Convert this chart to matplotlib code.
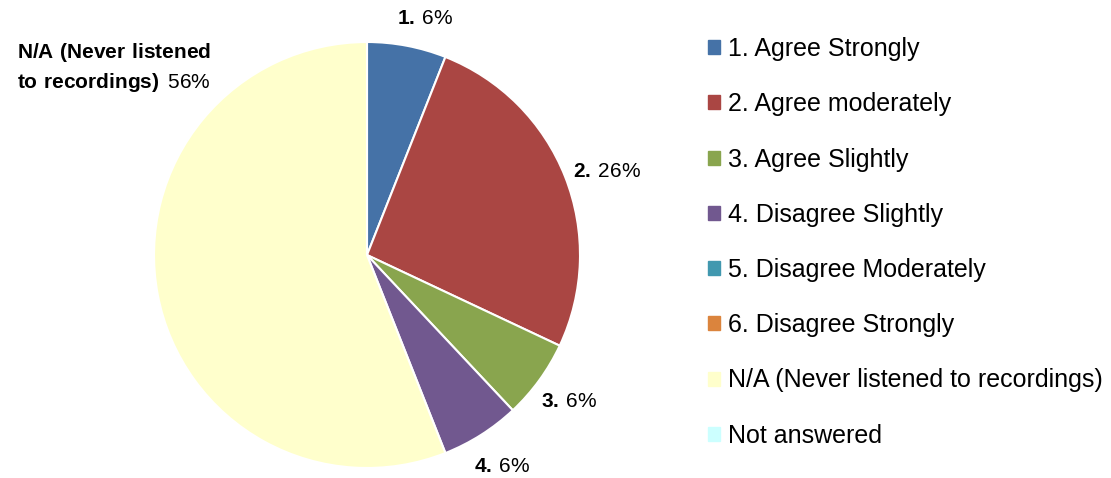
import numpy as np
import matplotlib
matplotlib.use("Agg")
import matplotlib.pyplot as plt
from matplotlib.patches import Patch

plt.rcParams['font.family'] = ['Liberation Sans', 'DejaVu Sans']
plt.rcParams['mathtext.fontset'] = 'custom'
plt.rcParams['mathtext.rm'] = 'Liberation Sans'
plt.rcParams['mathtext.bf'] = 'Liberation Sans:bold'

categories = ["1. Agree Strongly", "2. Agree moderately", "3. Agree Slightly",
              "4. Disagree Slightly", "5. Disagree Moderately", "6. Disagree Strongly",
              "N/A (Never listened to recordings)", "Not answered"]
short_labels = ["1.", "2.", "3.", "4.", "5.", "6.", "N/A (Never listened\nto recordings)", "Not answered"]
values = [6, 26, 6, 6, 0, 0, 56, 0]
colors = ["#4572A7", "#AA4643", "#89A54E", "#71588F", "#4198AF", "#DB843D", "#FFFFCC", "#CCFFFF"]

# label nudges (pixels) relative to the wedge mid-angle point
label_nudge = {0: (11, -8), 1: (8, -8), 2: (1, 0), 3: (1.5, -1.5)}

W, H = 1111, 478
fig = plt.figure(figsize=(W / 100, H / 100), dpi=100)
cx, cy, r = 367, 255, 213
ax = fig.add_axes([(cx - r) / W, (H - cy - r) / H, 2 * r / W, 2 * r / H])

idx = [i for i, v in enumerate(values) if v > 0]
vals = [values[i] for i in idx]
cols = [colors[i] for i in idx]
wedges, _ = ax.pie(vals, colors=cols, startangle=90, counterclock=False, radius=1,
                   wedgeprops=dict(edgecolor='white', linewidth=1.5))
ax.set_xlim(-1, 1)
ax.set_ylim(-1, 1)
ax.set_aspect('equal')
ax.axis('off')

fs_lab = 15
for w, i in zip(wedges, idx):
    pct = f"{values[i]}%"
    if i == 6:
        lines = short_labels[i].split("\n")
        txt = (r"$\bf{" + lines[0].replace(" ", r"\ ") + "}$\n"
               + r"$\bf{" + lines[1].replace(" ", r"\ ") + r"}\,$ " + pct)
        ax.text(-1.19, 0.88, txt, ha='center', va='center', fontsize=fs_lab,
                linespacing=1.42, multialignment='center', clip_on=False)
    else:
        ang = np.deg2rad((w.theta1 + w.theta2) / 2)
        d = 1.17
        txt = r"$\bf{" + short_labels[i] + r"}\,$" + pct
        ax.annotate(txt, xy=(d * np.cos(ang), d * np.sin(ang)), xytext=label_nudge[i],
                    textcoords='offset pixels', ha='center', va='center',
                    fontsize=fs_lab, annotation_clip=False)

handles = [Patch(facecolor=c, edgecolor=c) for c in colors]
fig.legend(handles, categories, loc='upper left', bbox_to_anchor=(708 / W, 1 - 37 / H),
           frameon=False, fontsize=18, handlelength=0.48, handleheight=0.48,
           handletextpad=0.32, labelspacing=1.25, borderpad=0, borderaxespad=0)

fig.savefig("out.png", dpi=100, facecolor='white')
